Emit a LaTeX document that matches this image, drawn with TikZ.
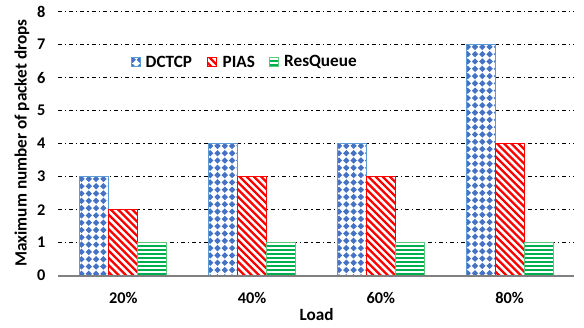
\documentclass[tikz,border=0pt]{standalone}
\usepackage{fontspec}
\setmainfont{Carlito}
\definecolor{dcblue}{HTML}{4472C4}
\definecolor{dcedge}{HTML}{5B9BD5}
\definecolor{pired}{HTML}{FF0000}
\definecolor{rqgreen}{HTML}{00B050}
\definecolor{rqedge}{HTML}{5CC97A}
\tikzset{
  gridline/.style={black, line width=0.8pt, dash pattern=on 4pt off 3pt on 1.2pt off 3pt},
  axisline/.style={gray, line width=1.6pt},
  ticklab/.style={font=\fontsize{16.3}{19}\selectfont\bfseries, inner sep=0pt},
  titlelab/.style={font=\fontsize{17.2}{20}\selectfont\bfseries, inner sep=0pt},
  dcborder/.style={draw=dcedge, line width=0.9pt},
  piborder/.style={draw=pired, line width=0.9pt},
  rqborder/.style={draw=rqedge, line width=0.9pt},
}
% pattern fills: x1 y1 x2 y2 (y downward)
\newcommand\dcfill[4]{%
  \begin{scope}
    \clip (#1,#2) rectangle (#3,#4);
    \fill[white] (#1,#2) rectangle (#3,#4);
    \foreach \i in {0,...,5}{\foreach \j in {0,...,34}{%
      \fill[dcblue] ({#1+1.6+\i*7.3},{#2+2.2+\j*7.3}) +(0,-3.2) -- +(3.2,0) -- +(0,3.2) -- +(-3.2,0) -- cycle;}}
  \end{scope}}
\newcommand\pifill[4]{%
  \begin{scope}
    \clip (#1,#2) rectangle (#3,#4);
    \fill[white] (#1,#2) rectangle (#3,#4);
    \foreach \k in {-40,...,6}{%
      \draw[pired, line width=2.3pt] ({#1+\k*7.2},{#2-2}) -- ++(270,270);}
  \end{scope}}
\newcommand\rqfill[4]{%
  \begin{scope}
    \clip (#1,#2) rectangle (#3,#4);
    \fill[white] (#1,#2) rectangle (#3,#4);
    \foreach \k in {0,...,60}{%
      \draw[rqgreen, line width=2pt] (#1,{#4-1.5-\k*4}) -- (#3,{#4-1.5-\k*4});}
  \end{scope}}
\newcommand\barset[4]{% left, dctcp, pias, resqueue
  \dcfill{#1}{275.7-33*#2}{#1+29}{275.7}
  \draw[dcborder] (#1,{275.7-33*#2}) rectangle (#1+29,275.7);
  \pifill{#1+29}{275.7-33*#3}{#1+58}{275.7}
  \draw[piborder] (#1+29,{275.7-33*#3}) rectangle (#1+58,275.7);
  \rqfill{#1+58}{275.7-33*#4}{#1+87}{275.7}
  \draw[rqborder] (#1+58,{275.7-33*#4}) rectangle (#1+87,275.7);
}
\begin{document}
\begin{tikzpicture}[x=1pt,y=-1pt]
\useasboundingbox (0,0) rectangle (584,327);
\fill[white] (0,0) rectangle (584,327);
% gridlines
\foreach \v in {1,...,8}{
  \draw[gridline] (58,{275.7-33*\v}) -- (574,{275.7-33*\v});
}
% tick labels
\foreach \v in {0,...,8}{
  \node[ticklab, anchor=east] (tick\v) at (45.5,{275.7-33*\v}) {\v};
}
% bars
\barset{79.9}{3}{2}{1}
\barset{208.6}{4}{3}{1}
\barset{337.4}{4}{3}{1}
\barset{466.1}{7}{4}{1}
% axis
\draw[axisline] (58,275.7) -- (574,275.7);
% category labels
\node[ticklab] (c20) at (123.4,297.5) {20\%};
\node[ticklab] (c40) at (252.1,297.5) {40\%};
\node[ticklab] (c60) at (380.9,297.5) {60\%};
\node[ticklab] (c80) at (509.6,297.5) {80\%};
% axis titles
\node[titlelab] (xtitle) at (316.5,315) {Load};
\node[titlelab, rotate=90] (ytitle) at (22,143) {Maximum number of packet drops};
% legend
\dcfill{131}{57.5}{140}{66.5}
\draw[dcborder] (131,57.5) rectangle (140,66.5);
\node[titlelab, anchor=west] (lgdc) at (145.5,62) {DCTCP};
\pifill{207.5}{57.5}{216.5}{66.5}
\draw[piborder] (207.5,57.5) rectangle (216.5,66.5);
\node[titlelab, anchor=west] (lgpi) at (222.5,62) {PIAS};
\rqfill{269.5}{57.5}{278.5}{66.5}
\draw[rqborder] (269.5,57.5) rectangle (278.5,66.5);
\node[titlelab, anchor=west] (lgrq) at (284,62) {ResQueue};
\end{tikzpicture}
\end{document}
